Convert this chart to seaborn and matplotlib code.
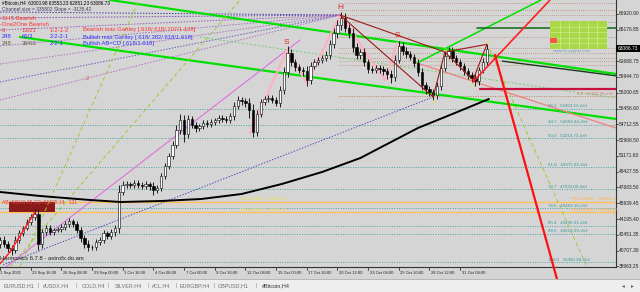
import matplotlib
matplotlib.use("Agg")
import matplotlib.pyplot as plt
import seaborn as sns
import numpy as np
import pandas as pd
from matplotlib.patches import Rectangle

sns.set_theme(style="white")
plt.rcParams['font.family'] = ['Liberation Sans', 'DejaVu Sans']

# ---------------- data ----------------
# 8-hour candles (each spans two H4 bars), closes
closes = [41933, 41491, 41049, 40828, 41933, 42707, 43259, 43922, 44475, 44806,
          41491, 42817, 43259, 42817, 43038, 43148, 43370, 43701, 44033, 43701,
          43038, 42154, 41491, 41160, 41160, 41712, 41933, 42707, 42375, 42817,
          43259, 47237, 48010, 48121, 48010, 48232, 48010, 47900, 48121, 47900,
          47458, 47679, 49005, 50110, 51215, 52428, 54088, 55193, 53646, 55304,
          54640, 54309, 54530, 54862, 54751, 54972, 55193, 55414, 55304, 55193,
          55635, 56740, 57403, 57293, 57072, 56298, 53867, 55856, 57182, 57514,
          57624, 57403, 57072, 58508, 60497, 62597, 61602, 61050, 60718, 60608,
          59613, 61160, 61602, 61823, 62044, 62376, 63591, 64807, 65690, 66464,
          65359, 64807, 63260, 62376, 62707, 61602, 60829, 60718, 60939, 60829,
          60608, 60276, 59945, 61823, 63370, 62818, 62486, 62154, 61492, 60497,
          59061, 58619, 58287, 57956, 58950, 60939, 62266, 62818, 62044, 61602,
          61160, 60608, 60166, 59835, 59504, 60718, 61602, 63086.73]
first_open = 41500
hi_wick = [350, 420, 300, 380, 450, 300, 260, 310, 280, 520,
           600, 340, 280, 300, 260, 240, 330, 290, 310, 270,
           300, 280, 350, 410, 260, 300, 280, 350, 240, 310,
           380, 800, 450, 300, 260, 330, 280, 290, 310, 260,
           420, 360, 300, 350, 280, 420, 500, 650, 520, 480,
           380, 300, 260, 340, 290, 310, 270, 330, 300, 280,
           350, 420, 480, 360, 300, 520, 650, 400, 360, 300,
           280, 340, 310, 420, 560, 720, 460, 380, 320, 300,
           540, 430, 380, 350, 320, 400, 450, 520, 600, 700,
           520, 460, 500, 430, 380, 420, 350, 300, 330, 310,
           360, 380, 400, 520, 600, 480, 400, 370, 350, 420,
           460, 380, 350, 300, 420, 480, 520, 450, 400, 380,
           350, 330, 310, 300, 420, 380, 400, 466]
lo_wick = [400, 380, 450, 500, 300, 280, 320, 260, 300, 350,
           700, 450, 320, 380, 300, 260, 280, 310, 290, 350,
           380, 420, 460, 400, 380, 350, 300, 280, 360, 330,
           420, 600, 380, 300, 340, 280, 320, 300, 350, 420,
           500, 380, 340, 300, 360, 320, 380, 420, 900, 400,
           350, 420, 300, 280, 330, 300, 320, 290, 310, 350,
           380, 400, 360, 420, 480, 900, 550, 420, 380, 350,
           300, 320, 380, 400, 450, 520, 480, 420, 380, 600,
           650, 420, 360, 340, 300, 380, 420, 480, 520, 560,
           480, 500, 520, 420, 460, 480, 400, 380, 360, 420,
           480, 500, 650, 400, 380, 420, 400, 380, 420, 460,
           500, 520, 480, 600, 450, 420, 380, 360, 420, 380,
           400, 420, 450, 480, 500, 420, 380, 351]

# 200-period moving average, sampled (H4 bar index, price)
ma_bar = [0, 21, 47, 63, 84, 105, 126, 147, 168, 188, 199, 218, 236, 255]
ma_val = [47237, 46795, 46353, 46132, 46243, 46464, 47016, 48121, 49447,
          50994, 52210, 54309, 55856, 57514]

# Fibonacci levels (right side)
fib_pct = ["38.2", "44.7", "50.0", "61.8", "70.7", "78.6", "85.4", "88.6", "100.0"]
fib_price = [56453.53, 54659.44, 53214.73, 49975.92, 47533.09, 45469.10,
             43498.31, 42619.99, 39490.98]
fib0_price = 57832.98
tr_labels = ["TR=0.50097", "TR=0.43457"]
tr_price = [46082.11, 45033.22]

# price axis labels
ytick_val = [66920.90, 65176.85, 61688.75, 59944.70, 58200.65, 56456.60,
             54712.55, 52968.50, 51224.45, 49480.40, 47736.35, 45992.30,
             44248.25, 42504.20, 40760.15, 39016.10]
ytick_txt = ["66920.90", "65176.85", "61688.75", "59944.70", "58200.65",
             "56456.60", "54712.55", "52968.50", "51171.60", "49427.55",
             "47683.50", "45939.45", "44195.40", "42451.35", "40707.30",
             "38963.25"]
last_price = "63086.73"
xtick_bar = [0, 16, 32, 48, 64, 80, 96, 112, 128, 144, 160, 176, 192, 208, 224, 240]
xtick_txt = ["21 Sep 2021", "23 Sep 16:00", "26 Sep 08:00", "29 Sep 00:00",
             "1 Oct 16:00", "4 Oct 08:00", "7 Oct 00:00", "9 Oct 16:00",
             "12 Oct 08:00", "15 Oct 00:00", "17 Oct 20:00", "20 Oct 12:00",
             "23 Oct 04:00", "25 Oct 20:00", "28 Oct 12:00", "31 Oct 04:00"]
tabs = ["EURUSD,H1", "#USDX,H4", "GOLD,H4", "SILVER,H4", "#CL,H4",
        "EURGBP,H4", "GBPUSD,H1", "#Bitcoin,H4"]

# pattern pivots (H4 bar index, price)
piv_H = (177.4, 66795)
piv_2 = (225.9, 57734)
piv_3 = (232.1, 62707)
piv_4 = (246.7, 59614)
piv_5 = (254.0, 63553)
shs_bar = [130.4, 149.7, 160.1, 177.4, 200.8, 207.1]
shs_val = [53757, 62928, 59282, 66795, 59613, 63702]

# ---------------- figure ----------------
W, Hh = 640, 292
fig = plt.figure(figsize=(W / 100, Hh / 100), dpi=100)
BG = '#d5d5d5'
fig.patch.set_facecolor(BG)
ax = fig.add_axes([0, (Hh - 267) / Hh, 616 / W, 267 / Hh])
ax.set_facecolor(BG)
XMAX = 616 / 1.917
ax.set_xlim(0, XMAX)
ax.set_ylim(38950, 68453)
for s in ['top', 'left']:
    ax.spines[s].set_visible(False)
for s in ['right', 'bottom']:
    ax.spines[s].set_color('#333333')
    ax.spines[s].set_linewidth(0.8)
ax.set_xticks([])
ax.set_yticks([])

def ft(px, py, s, **kw):
    kw.setdefault('va', 'center')
    kw.setdefault('fontsize', 4.2)
    return fig.text(px / W, 1 - py / Hh, s, **kw)

# ---- fib / horizontal levels ----
for p in fib_price:
    ax.axhline(p, color='#4aa3a3', lw=0.7, ls=(0, (1, 1.5)), zorder=1)
ax.plot([177, XMAX], [fib0_price] * 2, color='#c08060', lw=0.7, ls=(0, (1, 1.5)), zorder=1)
upper_lv = [68100, 67350, 66800, 66020, 64360, 63150, 62600, 62040, 61710, 61270]
for p in upper_lv:
    ax.plot([177, XMAX], [p, p], color='#b88a70', lw=0.6, ls=(0, (1, 1.5)), zorder=1)
for p in tr_price:
    ax.axhline(p, color='#ffbf5a', lw=1.0, zorder=2)
ax.add_patch(Rectangle((4.7, tr_price[1]), 24, tr_price[0] - tr_price[1],
                       facecolor='#8b1a1a', edgecolor='none', zorder=2))

# ---- fan lines into H ----
fan_start = [67127, 66464, 65138, 63370, 61381, 59392, 57403]
fan_col = ['#3c3ca0', '#7a4ab0', '#9a5ab8', '#a070c0', '#b070c0', '#6060c0', '#b070c0']
for p0, c in zip(fan_start, fan_col):
    ax.plot([0, piv_H[0]], [p0, piv_H[1]], color=c, lw=0.7, ls=(0, (1.5, 1.5)), zorder=2)

# ---- green trend lines ----
ax.plot([262, XMAX], [61700, 60080], color='#1a3a1a', lw=1.0, zorder=3)
ax.plot([57.4, XMAX], [68453, 60276], color='#00e000', lw=1.6, zorder=3)
ax.plot([10.4, XMAX], [64365, 55304], color='#00e000', lw=1.6, zorder=3)
ax.plot([217.5, 282.2], [61492, 68453], color='#00e000', lw=1.1, zorder=3)
ax.plot([248.8, XMAX], [65359, 65359], color='#207020', lw=1.2, zorder=3)
ax.plot([104.3, XMAX], [64365, 57624], color='#70d070', lw=0.7, ls=(0, (2, 2)), zorder=3)
for xs, ys in [([10.4, 72.5], [38950, 68453]), ([5.2, 125.2], [38950, 68453]),
               ([255.6, 306.2], [62928, 38950])]:
    ax.plot(xs, ys, color='#9acd32', lw=0.7, ls=(0, (4, 3)), zorder=3)

# blue dotted + violet line
ax.plot([1.6, piv_2[0]], [39171, piv_2[1]], color='#5050c0', lw=0.7, ls=(0, (1.5, 1.5)), zorder=3)
ax.plot([3.1, 156.5], [38950, 64033], color='#e070e0', lw=0.8, zorder=3)

# ---- candles ----
n = min(len(closes), len(hi_wick), len(lo_wick))
cl = np.array(closes[:n], float)
op = np.concatenate([[first_open], cl[:-1]])
hi = np.maximum(op, cl) + np.array(hi_wick[:n])
lo = np.minimum(op, cl) - np.array(lo_wick[:n])
xb = np.arange(n) * 2.0
df = pd.DataFrame(dict(x=xb, o=op, c=cl, h=hi, l=lo))
ax.vlines(df.x, df.l, df.h, color='black', lw=0.6, zorder=5)
bull = df.c >= df.o
ax.bar(df.x[bull], (df.c - df.o)[bull], bottom=df.o[bull], width=1.25,
       color='white', edgecolor='black', lw=0.4, zorder=6)
ax.bar(df.x[~bull], (df.o - df.c)[~bull], bottom=df.c[~bull], width=1.25,
       color='black', edgecolor='black', lw=0.4, zorder=6)

# moving average
sns.lineplot(x=ma_bar, y=ma_val, color='black', lw=1.4, ax=ax, zorder=7)

# ---- SHS outline & harmonic pattern ----
ax.plot(shs_bar, shs_val, color='#ffb0c0', lw=1.8, alpha=0.9, zorder=4)
ax.plot([217.5, XMAX], [61492, 54309], color='#f08080', lw=0.9, zorder=4)
for a, b in [(piv_H, piv_2), (piv_H, piv_3), (piv_2, piv_3), (piv_3, piv_4),
             (piv_4, piv_5), (piv_3, piv_5)]:
    ax.plot([a[0], b[0]], [a[1], b[1]], color='#a01818', lw=0.8, zorder=8)
ax.plot([250.4, XMAX], [58619, 58619], color='#c8103c', lw=1.6, zorder=8)
ax.plot([246.7, 286.9], [59393, 68453], color='#ff2020', lw=1.2, zorder=8)
ax.plot([5.2, 18.3], [40607, 45027], color='#ff2020', lw=1.2, zorder=8)
ax.plot([0, 5.2], [39300, 40607], color='#ff2020', lw=1.0, zorder=8)

# pattern letters
ax.text(177.4, 67600, "H", color='#e02020', fontsize=6, ha='center', va='center', zorder=9)
ax.text(149.2, 63800, "S", color='#e02020', fontsize=6, ha='center', va='center', zorder=9)
ax.text(207.1, 64580, "S", color='#e02020', fontsize=6, ha='center', va='center', zorder=9)
for (bx, pv, t) in [(225.9, 57180, "2"), (246.7, 58850, "4"), (232.1, 62820, "3"), (254.5, 63680, "5")]:
    ax.text(bx, pv, t, color='#e8e040', fontsize=4, ha='center', va='center', zorder=9)
ax.text(45.4, 59800, "2", color='#e05050', fontsize=4, ha='center', va='center', zorder=9)

# fib labels
for t, p in zip(fib_pct, fib_price):
    ax.text(286, p + 260, f"{t}   {p:.2f}-###", color='#3a9a9a', fontsize=3.2,
            ha='left', va='center', zorder=9)
ax.text(301, fib0_price + 260, f"0.0   {fib0_price:.2f}-###", color='#c08060',
        fontsize=3.2, ha='left', va='center', zorder=9)
for t, p, dy in zip(tr_labels, tr_price, [330, 200]):
    ax.text(298, p + dy, f"{t}   {p:.2f}", color='#ffb040', fontsize=3.2,
            ha='left', va='center', zorder=9)
    ax.text(125, p + dy, f"{t}   {p:.2f}", color='#f0e040', fontsize=3.2,
            ha='left', va='center', zorder=9)

# green table (top-right)
tx0, tx1, ty0, ty1 = 287, 316.6, 66120, 63030
ax.add_patch(Rectangle((tx0, ty1), tx1 - tx0, ty0 - ty1, facecolor='#a8d848',
                       edgecolor='none', zorder=8))
for k in range(1, 6):
    xx = tx0 + k * (tx1 - tx0) / 6
    ax.plot([xx, xx], [ty1, ty0], color='#d8f0a0', lw=0.4, zorder=9)
for k in range(1, 5):
    yy = ty1 + k * (ty0 - ty1) / 5
    ax.plot([tx0, tx1], [yy, yy], color='#d8f0a0', lw=0.4, zorder=9)
ax.add_patch(Rectangle((tx0, 63700), 3.5, 600, facecolor='#ff5050', edgecolor='none', zorder=10))
ax.text(288.5, 62870, "www.fx-cyprus.com", color='#70a0b0', fontsize=3.2, ha='left',
        va='center', zorder=9)

# ---------------- texts ----------------
ft(2, 3, "#Bitcoin,H4  63000.98 63553.23 62851.23 63086.73", color='black', fontsize=3.3)
ft(2, 10, "Channel size = 335802 Slope = -3135.42", color='#404060', fontsize=3.5)
ft(0, 18, "-SHS Bearish", color='#ff3030')
ft(0, 24, "-One2One Bearish", color='#ff3030')
rows = [(30, ["0", "13/21", "1-2-1-2", "Bearish max Gartley [.618/.618/.707/1.128]"],
         ['#ff3030'] * 4),
        (37, ["248", "65/3", "2-2-2-1", "Bullish max Gartley [.618/.382/.618/1.618]"],
         ['#3030ff'] * 4),
        (44, ["248", "39/63", "2-2-1", "Bullish AB=CD [.618/1.618]"],
         ['#606040', '#606040', '#3030ff', '#3030ff'])]
for py, cells, cols in rows:
    for cx, s, c in zip([2, 22, 50, 83], cells, cols):
        ft(cx, py, s, color=c)
ft(0, 258, "Harmonics 6.7.8 - astrofx.do.am", color='#202020', fontsize=4.2)
ft(2, 203, "AB=58919.85 CD=55875.14   121", color='#e04040', fontsize=3.6)

# price axis labels
for v, t in zip(ytick_val, ytick_txt):
    py = (68453 - v) / 110.5
    ft(619, py, t, color='#202020', fontsize=3.5)
    fig.add_artist(plt.Line2D([616 / W, 618 / W], [1 - py / Hh] * 2, color='#333333', lw=0.6))
py = (68453 - 63086.73) / 110.5
fig.add_artist(Rectangle((616 / W, 1 - (py + 3.5) / Hh), 24 / W, 7 / Hh,
                         facecolor='black', edgecolor='none', transform=fig.transFigure))
ft(618, py, last_price, color='white', fontsize=3.5)

# time axis labels
for b, t in zip(xtick_bar, xtick_txt):
    px = b * 1.917
    fig.add_artist(plt.Line2D([px / W] * 2, [1 - 267 / Hh, 1 - 270 / Hh], color='#333333', lw=0.6))
    ft(px + (1.5 if b else -2.5), 273, t, color='#202020', fontsize=3.0, ha='left')

# tab bar
fig.add_artist(Rectangle((0, 0), 1, 13 / Hh, facecolor='#eeeeee', edgecolor='none',
                         transform=fig.transFigure))
fig.add_artist(plt.Line2D([0, 1], [13 / Hh] * 2, color='#a0a0a0', lw=0.5))
tab_x = [3, 43, 82, 115, 152, 180, 218, 262]
sep_x = [37, 75, 108, 147, 175, 214, 256]
for tx, t in zip(tab_x, tabs):
    ft(tx, 285.5, t, color='#303030' if t.startswith('#B') else '#707070', fontsize=3.9)
for sx in sep_x:
    ft(sx, 285.5, "|", color='#909090', fontsize=3.9)
fig.add_artist(Rectangle((257 / W, 0), 41 / W, 12.5 / Hh, facecolor='white',
                         edgecolor='#909090', lw=0.5, transform=fig.transFigure, zorder=0.5))
ft(622, 285.5, "◂", color='#606060', fontsize=4, family=['DejaVu Sans'])
ft(631, 285.5, "▸", color='#606060', fontsize=4, family=['DejaVu Sans'])

# red arrow extending beyond the chart
ax.annotate('', xy=(560, Hh - 290), xycoords='figure pixels',
            xytext=(258.2, 62376), textcoords='data',
            arrowprops=dict(arrowstyle='-|>', color='#ff1010', lw=1.6,
                            mutation_scale=6, shrinkA=0, shrinkB=0),
            annotation_clip=False, zorder=20)

fig.savefig("out.png", dpi=100, facecolor=fig.get_facecolor())
